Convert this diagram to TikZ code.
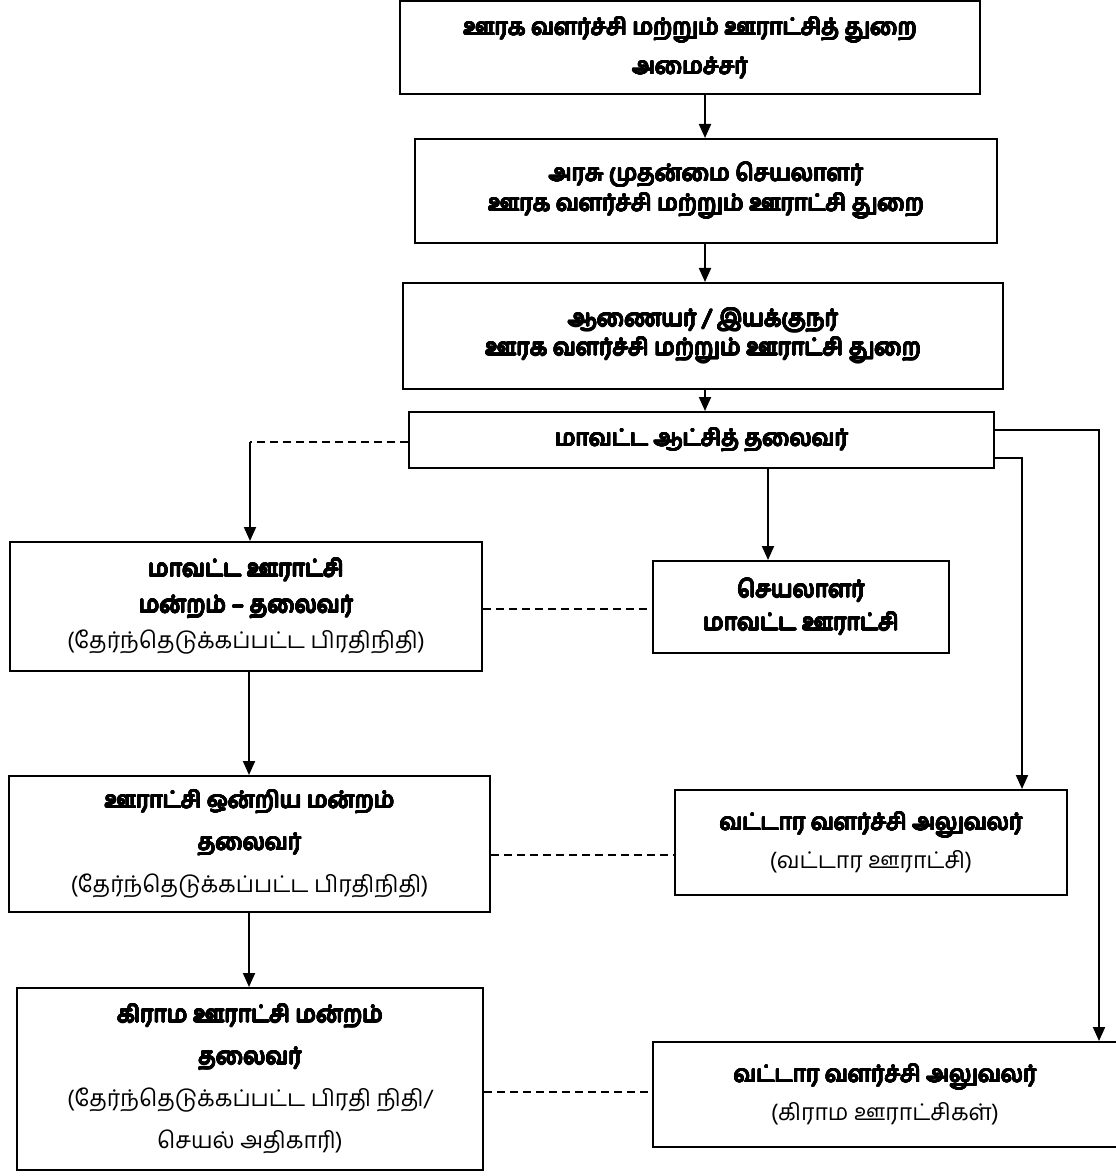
\documentclass[tikz,border=0pt]{standalone}
\usepackage{fontspec}
\usepackage{tikz}
\usepackage[copies]{contour}
\usetikzlibrary{arrows.meta}
\newfontfamily\tamil[Script=Tamil]{Hind Madurai}
\contourlength{0.35pt}
\contournumber{16}
\newcommand{\hd}[1]{\contour{black}{#1}}

\begin{document}
\begin{tikzpicture}[x=0.5pt, y=-0.5pt,
    box/.style={draw, line width=1pt, rectangle, inner sep=0pt, align=center,
      font=\tamil\fontsize{11.5}{18}\selectfont},
    lines/.style={font=\tamil\fontsize{11.5}{#1}\selectfont},
    arr/.style={line width=1pt, -{Triangle[length=7pt, width=6pt]}},
    dashlink/.style={line width=0.7pt, dash pattern=on 4pt off 2.5pt}]
  % page size of the scan
  \useasboundingbox (0,0) rectangle (1115,1176);

  % top chain
  \node[box, lines=19.5pt, minimum width=290pt, minimum height=46.5pt] (minister) at (690,48)
    {\hd{ஊரக வளர்ச்சி மற்றும் ஊராட்சித் துறை}\\ \hd{அமைச்சர்}};
  \node[box, lines=15pt, minimum width=291pt, minimum height=52pt] (secretary) at (706,191)
    {\hd{அரசு முதன்மை செயலாளர்}\\ \hd{ஊரக வளர்ச்சி மற்றும் ஊராட்சி துறை}};
  \node[box, lines=14.5pt, minimum width=300pt, minimum height=53pt] (director) at (703,336)
    {\hd{ஆணையர் / இயக்குநர்}\\ \hd{ஊரக வளர்ச்சி மற்றும் ஊராட்சி துறை}};
  \node[box, minimum width=292.5pt, minimum height=28pt] (collector) at (701.5,440)
    {\hd{மாவட்ட ஆட்சித் தலைவர்}};

  % left column
  \node[box, minimum width=236pt, minimum height=64.5pt] (dpchair) at (246,606.5)
    {\hd{மாவட்ட ஊராட்சி}\\ \hd{மன்றம் – தலைவர்}\\ (தேர்ந்தெடுக்கப்பட்ட பிரதிநிதி)};
  \node[box, lines=21pt, minimum width=240.5pt, minimum height=68pt] (upchair) at (249.5,844)
    {\hd{ஊராட்சி ஒன்றிய மன்றம்}\\ \hd{தலைவர்}\\ (தேர்ந்தெடுக்கப்பட்ட பிரதிநிதி)};
  \node[box, lines=21pt, minimum width=233pt, minimum height=91pt] (vpchair) at (250,1079)
    {\hd{கிராம ஊராட்சி மன்றம்}\\ \hd{தலைவர்}\\ (தேர்ந்தெடுக்கப்பட்ட பிரதி நிதி/\\ செயல் அதிகாரி)};

  % right column
  \node[box, lines=16.5pt, minimum width=148pt, minimum height=46pt] (dpsec) at (801,607)
    {\hd{செயலாளர்}\\ \hd{மாவட்ட ஊராட்சி}};
  \node[box, lines=19pt, minimum width=196pt, minimum height=52.5pt] (bdoblock) at (871,842.5)
    {\hd{வட்டார வளர்ச்சி அலுவலர்}\\ (வட்டார ஊராட்சி)};
  \node[box, lines=19pt, minimum width=232pt, minimum height=52.5pt] (bdovillage) at (885,1094.5)
    {\hd{வட்டார வளர்ச்சி அலுவலர்}\\ (கிராம ஊராட்சிகள்)};

  % turning points
  \coordinate (midx) at (705,0);
  \coordinate (colx) at (768,0);
  \coordinate (leftx) at (249,0);
  \coordinate (bendL) at (250,442);
  \coordinate (bendA) at (1099,430);
  \coordinate (bendB) at (1022,458);
  \coordinate (rowA) at (0,609);
  \coordinate (rowB) at (0,855);
  \coordinate (rowC) at (0,1092);

  % solid arrows
  \draw[arr] (midx |- minister.south) -- (midx |- secretary.north);
  \draw[arr] (midx |- secretary.south) -- (midx |- director.north);
  \draw[arr] (midx |- director.south) -- (midx |- collector.north);
  \draw[arr] (colx |- collector.south) -- (colx |- dpsec.north);
  \draw[dashlink] (collector.west |- bendL) -- (bendL);
  \draw[arr] (bendL) -- (bendL |- dpchair.north);
  \draw[arr] (collector.east |- bendA) -- (bendA) -- (bendA |- bdovillage.north);
  \draw[arr] (collector.east |- bendB) -- (bendB) -- (bendB |- bdoblock.north);
  \draw[arr] (leftx |- dpchair.south) -- (leftx |- upchair.north);
  \draw[arr] (leftx |- upchair.south) -- (leftx |- vpchair.north);

  % dashed links
  \draw[dashlink] (dpchair.east |- rowA) -- (dpsec.west |- rowA);
  \draw[dashlink] (upchair.east |- rowB) -- (bdoblock.west |- rowB);
  \draw[dashlink] (vpchair.east |- rowC) -- (bdovillage.west |- rowC);
\end{tikzpicture}
\end{document}
